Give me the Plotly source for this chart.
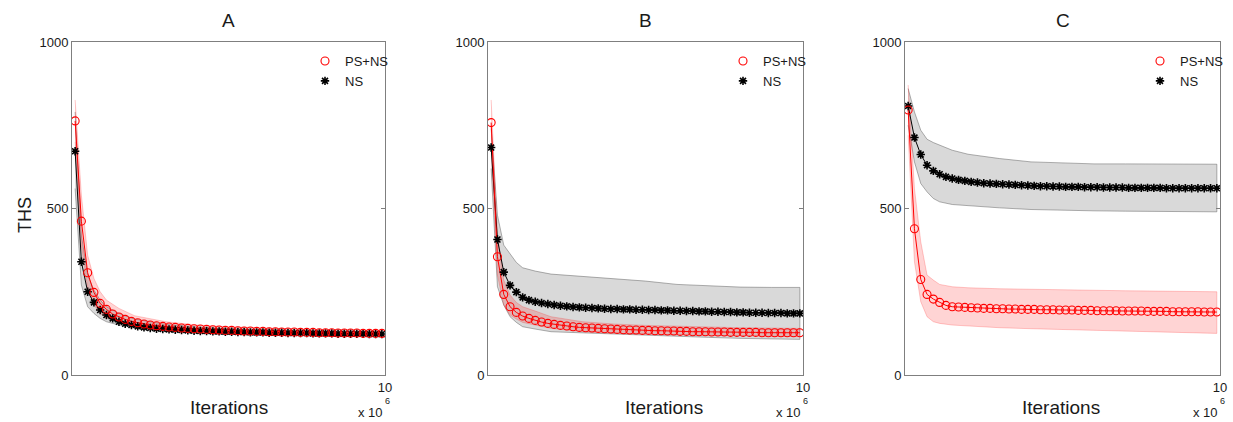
import plotly.graph_objects as go

# ---------------- data (iterations in units of 10^6) ----------------
ITER = [round(0.1 + 0.2 * i, 1) for i in range(50)]
BAND_ITER = [0.1, 0.3, 0.5, 0.7, 0.9, 1.1, 1.5, 2.0, 3.0, 4.0, 5.0, 6.0, 7.0, 8.0, 9.0, 9.9]

PANELS = ["A", "B", "C"]

# Panel A
A_PSNS = [763, 462, 307, 248, 215, 197, 183, 174, 167, 161, 157, 153, 150, 148, 146, 144, 143, 141, 140, 139,
          138, 137, 136, 135, 134, 134, 133, 132, 132, 131, 131, 130, 130, 129, 129, 129, 128, 128, 128, 127,
          127, 127, 126, 126, 126, 126, 125, 125, 125, 125]
A_NS = [672, 340, 250, 218, 195, 180, 170, 160, 154, 150, 146, 143, 141, 139, 138, 137, 136, 135, 134, 133,
        132, 132, 131, 131, 130, 130, 129, 129, 128, 128, 128, 127, 127, 127, 126, 126, 126, 126, 125, 125,
        125, 125, 124, 124, 124, 124, 124, 123, 123, 123]
A_PSNS_UP = [826, 540, 360, 290, 250, 225, 200, 178, 160, 150, 145, 141, 139, 137, 135, 134]
A_PSNS_LO = [700, 390, 260, 210, 185, 172, 160, 150, 138, 132, 128, 124, 121, 119, 117, 116]
A_NS_UP = [790, 420, 300, 255, 225, 205, 185, 168, 152, 144, 139, 136, 134, 132, 131, 130]
A_NS_LO = [560, 270, 205, 185, 170, 160, 150, 142, 132, 126, 122, 120, 118, 117, 116, 115]

# Panel B
B_PSNS = [758, 355, 242, 205, 188, 177, 170, 164, 159, 155, 152, 149, 147, 145, 143, 142, 141, 140, 139, 138,
          137, 136, 135, 135, 134, 134, 133, 133, 132, 132, 131, 131, 130, 130, 130, 129, 129, 129, 128, 128,
          128, 128, 128, 127, 127, 127, 127, 127, 127, 127]
B_NS = [683, 407, 309, 269, 249, 233, 225, 220, 216, 213, 210, 208, 206, 204, 203, 202, 201, 200, 199, 198,
        198, 197, 197, 196, 196, 195, 195, 194, 194, 193, 193, 192, 192, 191, 191, 190, 190, 189, 189, 188,
        188, 187, 187, 187, 186, 186, 186, 185, 185, 185]
B_PSNS_UP = [826, 420, 285, 240, 218, 205, 192, 175, 160, 153, 149, 146, 144, 142, 141, 140]
B_PSNS_LO = [690, 300, 210, 180, 168, 158, 150, 140, 130, 125, 122, 120, 118, 117, 116, 115]
B_NS_UP = [740, 480, 390, 362, 338, 322, 312, 303, 296, 290, 282, 272, 267, 264, 263, 263]
B_NS_LO = [620, 265, 210, 175, 158, 145, 138, 130, 125, 122, 119, 116, 113, 110, 108, 107]

# Panel C
C_PSNS = [796, 439, 287, 242, 228, 218, 209, 205, 204, 203, 202, 201, 200, 200, 199, 199, 198, 198, 197, 197,
          197, 196, 196, 196, 195, 195, 195, 194, 194, 194, 193, 193, 193, 193, 192, 192, 192, 192, 191, 191,
          191, 191, 190, 190, 190, 190, 190, 189, 189, 189]
C_NS = [808, 713, 662, 630, 613, 603, 595, 590, 586, 583, 580, 578, 576, 575, 574, 573, 572, 571, 570, 569,
        568, 567, 567, 566, 566, 565, 565, 565, 564, 564, 564, 563, 563, 563, 563, 562, 562, 562, 562, 562,
        562, 561, 561, 561, 561, 561, 561, 561, 561, 561]
C_PSNS_UP = [871, 560, 400, 300, 285, 272, 265, 262, 259, 257, 255, 254, 253, 252, 251, 250]
C_PSNS_LO = [720, 340, 220, 175, 160, 155, 150, 146, 142, 139, 136, 133, 131, 129, 127, 125]
C_NS_UP = [860, 790, 735, 708, 698, 690, 675, 663, 650, 640, 636, 634, 634, 633, 633, 633]
C_NS_LO = [750, 640, 575, 550, 530, 520, 512, 508, 502, 497, 495, 493, 492, 491, 490, 490]

DATA = {
    "A": (A_PSNS, A_NS, A_PSNS_UP, A_PSNS_LO, A_NS_UP, A_NS_LO),
    "B": (B_PSNS, B_NS, B_PSNS_UP, B_PSNS_LO, B_NS_UP, B_NS_LO),
    "C": (C_PSNS, C_NS, C_PSNS_UP, C_PSNS_LO, C_NS_UP, C_NS_LO),
}

# ---------------- layout ----------------
W, H = 1233, 422
FONT = "Arial, Liberation Sans, sans-serif"
X_DOMAINS_PX = [(72, 385), (488, 803), (905, 1220)]
Y_TOP_PX, Y_BOT_PX = 42, 375
YDOM = [(H - Y_BOT_PX) / H, (H - Y_TOP_PX) / H]
LABEL_X_PX = [229, 664, 1061]

fig = go.Figure()

for i, p in enumerate(PANELS):
    psns, ns, pu, pl, nu, nl = DATA[p]
    ax = "" if i == 0 else str(i + 1)
    xa, ya = "x" + ax, "y" + ax
    leg = "legend" + ax
    # NS band
    fig.add_trace(go.Scatter(x=BAND_ITER + BAND_ITER[::-1], y=nu + nl[::-1], xaxis=xa, yaxis=ya,
                             fill="toself", fillcolor="rgba(128,128,128,0.30)", mode="lines",
                             line=dict(color="rgba(90,90,90,0.6)", width=0.8), showlegend=False,
                             hoverinfo="skip"))
    # PS+NS band
    fig.add_trace(go.Scatter(x=BAND_ITER + BAND_ITER[::-1], y=pu + pl[::-1], xaxis=xa, yaxis=ya,
                             fill="toself", fillcolor="rgba(255,0,0,0.17)", mode="lines",
                             line=dict(color="rgba(255,0,0,0.25)", width=0.8), showlegend=False,
                             hoverinfo="skip"))
    # mean lines
    fig.add_trace(go.Scatter(x=ITER, y=ns, xaxis=xa, yaxis=ya, mode="lines",
                             line=dict(color="black", width=1), showlegend=False))
    fig.add_trace(go.Scatter(x=ITER, y=psns, xaxis=xa, yaxis=ya, mode="lines",
                             line=dict(color="red", width=1), showlegend=False))
    # markers
    fig.add_trace(go.Scatter(x=ITER, y=ns, xaxis=xa, yaxis=ya, mode="markers", name="NS",
                             marker=dict(symbol="asterisk-open", size=7, color="black",
                                         line=dict(color="black", width=1.6)),
                             legend=leg, legendrank=2))
    fig.add_trace(go.Scatter(x=ITER, y=psns, xaxis=xa, yaxis=ya, mode="markers", name="PS+NS",
                             marker=dict(symbol="circle-open", size=8, color="red",
                                         line=dict(color="red", width=1.1)),
                             legend=leg, legendrank=1))

    x0, x1 = X_DOMAINS_PX[i]
    axis_common = dict(showline=True, linecolor="#7f7f7f", linewidth=1, mirror="ticks",
                       ticks="inside", ticklen=4, tickcolor="#7f7f7f", showgrid=False, zeroline=False,
                       automargin=False,
                       tickfont=dict(family=FONT, size=13, color="#1a1a1a"))
    fig.update_layout(**{
        "xaxis" + ax: dict(domain=[x0 / W, x1 / W], range=[0, 10], tickvals=[10], ticktext=["10"],
                           anchor=ya, **axis_common),
        "yaxis" + ax: dict(domain=YDOM, range=[0, 1000], tickvals=[0, 500, 1000],
                           ticktext=["0", "500", "1000"], anchor=xa, **axis_common),
        leg: dict(x=(x1 - 80) / W, y=(H - 46) / H, xanchor="left", yanchor="top",
                  bgcolor="rgba(0,0,0,0)", font=dict(family=FONT, size=13, color="#1a1a1a"),
                  tracegroupgap=0, traceorder="normal"),
    })

    # panel title
    fig.add_annotation(text=p, x=(x0 + x1) / 2 / W, y=(H - 20) / H, xref="paper", yref="paper",
                       showarrow=False, font=dict(family=FONT, size=19, color="#1a1a1a"),
                       xanchor="center", yanchor="middle")
    # x label
    fig.add_annotation(text="Iterations", x=LABEL_X_PX[i] / W, y=(H - 407) / H, xref="paper",
                       yref="paper", showarrow=False, font=dict(family=FONT, size=19, color="#1a1a1a"),
                       xanchor="center", yanchor="middle")
    # exponent
    fig.add_annotation(text="x 10", x=(x1 - 15) / W, y=(H - 412) / H, xref="paper", yref="paper",
                       showarrow=False, font=dict(family=FONT, size=13, color="#1a1a1a"),
                       xanchor="center", yanchor="middle")
    fig.add_annotation(text="6", x=(x1 + 2) / W, y=(H - 401) / H, xref="paper", yref="paper",
                       showarrow=False, font=dict(family=FONT, size=9, color="#1a1a1a"),
                       xanchor="center", yanchor="middle")

fig.add_annotation(text="THS", x=25 / W, y=(H - 215) / H, xref="paper", yref="paper", showarrow=False,
                   textangle=-90, font=dict(family=FONT, size=18, color="#1a1a1a"),
                   xanchor="center", yanchor="middle")

fig.update_layout(width=W, height=H, margin=dict(l=0, r=0, t=0, b=0, pad=0, autoexpand=False),
                  plot_bgcolor="white", paper_bgcolor="white", font=dict(family=FONT))

fig.write_html("out.html", config={"displayModeBar": False},
               post_script="document.body.style.margin='0';document.body.style.overflow='hidden';")
